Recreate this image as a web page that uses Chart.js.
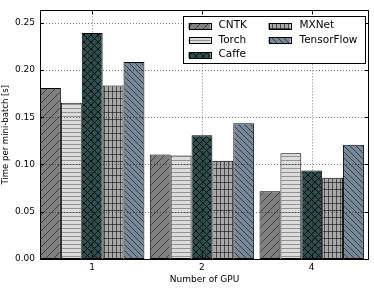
<!DOCTYPE html>
<html>
<head>
<meta charset="utf-8">
<script src="https://cdn.jsdelivr.net/npm/chart.js@4"></script>
<style>
html,body{margin:0;padding:0;background:#fff;}
#wrap{width:374px;height:289px;position:relative;}
</style>
</head>
<body>
<div id="wrap"><canvas id="c" width="374" height="289"></canvas></div>
<script>
// ---- data ----
const categories = ['1', '2', '4'];           // Number of GPU
const seriesNames = ['CNTK', 'Torch', 'Caffe', 'MXNet', 'TensorFlow'];
const cntk       = [0.181, 0.1105, 0.0716];
const torch      = [0.1653, 0.1095, 0.112];
const caffe      = [0.239, 0.1308, 0.0936];
const mxnet      = [0.1835, 0.1039, 0.086];
const tensorflow = [0.2083, 0.1436, 0.1209];
const yTicks = [0.00, 0.05, 0.10, 0.15, 0.20, 0.25];

// ---- styles ----
const seriesBg = ['#808080', '#dcdcdc', '#2f4f4f', '#a9a9a9', '#778899'];
const seriesHatch = ['fdiag', 'horiz', 'cross', 'grid', 'bdiag'];
const hatchColor = ['rgba(0,0,0,0.5)', 'rgba(0,0,0,0.33)', 'rgba(0,0,0,0.8)', 'rgba(0,0,0,0.55)', 'rgba(0,0,0,0.55)'];

function makePattern(bg, kind, col) {
  let w = 8, h = 8;
  if (kind === 'horiz') { w = 4; h = 4; }
  if (kind === 'grid') { w = 4; h = 7; }
  if (kind === 'cross') { w = 7; h = 7; }
  if (kind === 'bdiag') { w = 6; h = 6; }
  const c = document.createElement('canvas');
  c.width = w; c.height = h;
  const x = c.getContext('2d');
  x.fillStyle = bg; x.fillRect(0, 0, w, h);
  x.strokeStyle = col; x.lineWidth = 1;
  const line = (a, b, cc, d) => { x.beginPath(); x.moveTo(a, b); x.lineTo(cc, d); x.stroke(); };
  const fwd = () => { line(-1, h + 1, w + 1, -1); line(-1, 1, 1, -1); line(w - 1, h + 1, w + 1, h - 1); };
  const bwd = () => { line(-1, -1, w + 1, h + 1); line(w - 1, -1, w + 1, 1); line(-1, h - 1, 1, h + 1); };
  if (kind === 'fdiag') fwd();
  if (kind === 'bdiag') bwd();
  if (kind === 'cross') { fwd(); bwd(); }
  if (kind === 'horiz') line(0, 0.5, w, 0.5);
  if (kind === 'grid') { line(0.5, 0, 0.5, h); line(0, 0.5, w, 0.5); }
  return document.getElementById('c').getContext('2d').createPattern(c, 'repeat');
}

const seriesValues = [cntk, torch, caffe, mxnet, tensorflow];
const patterns = seriesBg.map((bg, i) => makePattern(bg, seriesHatch[i], hatchColor[i]));

const datasets = seriesNames.map((name, i) => ({
  label: name,
  data: seriesValues[i].map((v, j) => ({ x: j, y: v })),
  backgroundColor: patterns[i],
  borderColor: '#000',
  borderWidth: 1,
  borderSkipped: false,
  categoryPercentage: 0.951,
  barPercentage: 1.0
}));

const FONT = "'DejaVu Sans', sans-serif";

const gridPlugin = {
  id: 'dotgrid',
  afterDatasetsDraw(chart) {
    const ctx = chart.ctx, ca = chart.chartArea;
    const xs = chart.scales.x, ys = chart.scales.y;
    ctx.save();
    ctx.strokeStyle = 'rgba(0,0,0,0.5)';
    ctx.lineWidth = 1;
    ctx.setLineDash([1, 2]);
    ctx.beginPath();
    yTicks.forEach(v => {
      const p = Math.round(ys.getPixelForValue(v)) + 0.5;
      ctx.moveTo(ca.left, p); ctx.lineTo(ca.right, p);
    });
    categories.forEach((c, i) => {
      const p = Math.round(xs.getPixelForValue(i)) + 0.5;
      ctx.moveTo(p, ca.top); ctx.lineTo(p, ca.bottom);
    });
    ctx.stroke();
    ctx.restore();
  }
};

const framePlugin = {
  id: 'frame',
  afterDraw(chart) {
    const ctx = chart.ctx, ca = chart.chartArea;
    const xs = chart.scales.x, ys = chart.scales.y;
    ctx.save();
    ctx.strokeStyle = '#000';
    ctx.lineWidth = 1;
    // inner ticks
    ctx.beginPath();
    yTicks.forEach(v => {
      const p = Math.round(ys.getPixelForValue(v)) + 0.5;
      ctx.moveTo(ca.left, p); ctx.lineTo(ca.left + 4, p);
      ctx.moveTo(ca.right, p); ctx.lineTo(ca.right - 4, p);
    });
    categories.forEach((c, i) => {
      const p = Math.round(xs.getPixelForValue(i)) + 0.5;
      ctx.moveTo(p, ca.top); ctx.lineTo(p, ca.top + 4);
      ctx.moveTo(p, ca.bottom); ctx.lineTo(p, ca.bottom - 4);
    });
    ctx.stroke();
    // frame
    ctx.strokeRect(Math.round(ca.left) + 0.5, Math.round(ca.top) + 0.5,
                   Math.round(ca.right - ca.left) - 1, Math.round(ca.bottom - ca.top));
    // legend
    const bx = Math.round(ca.right - 186) + 0.5, by = Math.round(ca.top + 6) + 0.5;
    const bw = 182, bh = 47;
    ctx.fillStyle = '#fff';
    ctx.fillRect(bx, by, bw, bh);
    ctx.strokeRect(bx, by, bw, bh);
    ctx.font = '10.5px ' + FONT;
    ctx.textBaseline = 'middle';
    ctx.textAlign = 'left';
    seriesNames.forEach((name, i) => {
      const col = i < 3 ? 0 : 1;
      const row = i < 3 ? i : i - 3;
      const sx = bx + (col === 0 ? 5 : 85);
      const tx = bx + (col === 0 ? 35 : 116);
      const cy = by + 9 + row * 14.6;
      ctx.fillStyle = patterns[i];
      ctx.fillRect(sx, Math.round(cy - 3), 22, 6);
      ctx.strokeStyle = '#000';
      ctx.strokeRect(Math.round(sx) + 0.5, Math.round(cy - 3) + 0.5, 22, 6);
      ctx.fillStyle = '#000';
      ctx.fillText(name, tx, cy);
    });
    ctx.restore();
  }
};

new Chart(document.getElementById('c'), {
  type: 'bar',
  data: { datasets },
  options: {
    responsive: false,
    animation: false,
    devicePixelRatio: 1,
    layout: { padding: { top: 5, right: 5, left: 0, bottom: 0 } },
    plugins: { legend: { display: false }, tooltip: { enabled: false } },
    scales: {
      x: {
        type: 'linear',
        min: -0.4756,
        max: 2.5217,
        offset: false,
        afterBuildTicks: s => { s.ticks = categories.map((c, i) => ({ value: i })); },
        afterFit: s => { s.height = 30; },
        grid: { display: false, drawTicks: false },
        border: { display: false },
        ticks: {
          padding: 3, color: '#000', font: { family: FONT, size: 9 },
          callback: v => categories[v] !== undefined ? categories[v] : ''
        },
        title: { display: true, text: 'Number of GPU', color: '#000', font: { family: FONT, size: 9 }, padding: { top: 1, bottom: 4 } }
      },
      y: {
        min: 0,
        max: 0.263,
        afterBuildTicks: s => { s.ticks = yTicks.map(v => ({ value: v })); },
        afterFit: s => { s.width = 40; },
        grid: { display: false, drawTicks: false },
        border: { display: false },
        ticks: {
          padding: 5, color: '#000', font: { family: FONT, size: 9 },
          callback: v => Number(v).toFixed(2)
        },
        title: { display: true, text: 'Time per mini-batch [s]', color: '#000', font: { family: FONT, size: 8.5 }, padding: { top: 1, bottom: 0 } }
      }
    }
  },
  plugins: [gridPlugin, framePlugin]
});
</script>
</body>
</html>
